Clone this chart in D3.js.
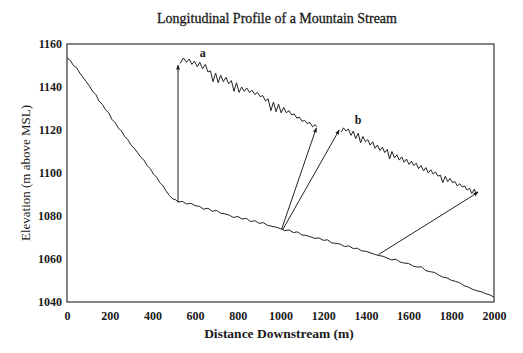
<!doctype html>
<html>
  <head>
    <script src="https://d3js.org/d3.v7.min.js"></script>
    <style>
      body { margin: 0; background: #fff; }
      text { font-family: "Liberation Serif", "Times New Roman", serif; fill: #1a1a1a; }
      path.profile { fill: none; stroke: #222; stroke-width: 1; }
      line.arrow { stroke: #222; stroke-width: 1; }
      rect.frame { fill: none; stroke: #333; stroke-width: 1.2; }
    </style>
  </head>
  <body>
    <svg width="523" height="353"></svg>
    <script>
      // distance downstream (m), elevation (m above MSL)
      var mainProfile = [
        [0, 1153.5], [15, 1152.5], [30, 1150], [45, 1149], [60, 1146.5], [75, 1144.5],
        [90, 1142.5], [105, 1140.5], [120, 1138], [135, 1136.5], [150, 1133.5], [165, 1132],
        [180, 1129.5], [195, 1128], [210, 1125], [225, 1123.5], [240, 1121], [255, 1119.5],
        [270, 1117], [285, 1115.5], [300, 1113], [315, 1111.5], [330, 1109.5], [345, 1107.5],
        [360, 1106], [375, 1103.5], [390, 1102], [405, 1099.5], [420, 1098], [435, 1095.5],
        [450, 1094], [465, 1091.5], [480, 1089.5], [495, 1088], [510, 1087.5], [520, 1086.5],
        [540, 1086.8], [560, 1085.6], [580, 1085.9], [600, 1084.8], [620, 1084.5], [640, 1083.2],
        [660, 1083.6], [680, 1082.2], [700, 1082.6], [720, 1081.3], [740, 1081.0], [760, 1080.4],
        [780, 1079.3], [800, 1079.8], [820, 1078.6], [840, 1078.9], [860, 1077.4], [880, 1077.8],
        [900, 1076.6], [920, 1076.9], [940, 1075.6], [960, 1075.2], [980, 1074.8], [1000, 1074.1],
        [1020, 1073.2], [1040, 1073.5], [1060, 1072.3], [1080, 1072.6], [1100, 1071.2], [1120, 1071.0],
        [1140, 1070.3], [1160, 1069.6], [1180, 1069.8], [1200, 1068.7], [1220, 1068.9], [1240, 1067.5],
        [1260, 1067.3], [1280, 1066.9], [1300, 1065.8], [1320, 1066.1], [1340, 1064.9], [1360, 1065.0],
        [1380, 1063.8], [1400, 1063.6], [1420, 1062.9], [1440, 1062.2], [1460, 1061.6], [1480, 1061.3],
        [1500, 1060.4], [1520, 1059.6], [1540, 1059.9], [1560, 1058.6], [1580, 1058.1], [1600, 1057.9],
        [1620, 1056.8], [1640, 1056.2], [1660, 1056.4], [1680, 1054.6], [1700, 1054.1], [1720, 1053.8],
        [1740, 1052.6], [1760, 1051.6], [1780, 1051.2], [1800, 1050.1], [1820, 1049.6], [1840, 1048.9],
        [1860, 1047.6], [1880, 1046.9], [1900, 1045.9], [1920, 1045.2], [1940, 1044.8], [1960, 1043.9],
        [1980, 1043.3], [2000, 1042.3]
      ];

      var profileA = [
        [530, 1151], [545, 1153.5], [560, 1151.5], [572, 1153], [585, 1150.5], [597, 1152],
        [610, 1149.5], [622, 1151.5], [635, 1148.5], [648, 1150.5], [660, 1147], [672, 1147.5],
        [684, 1142.5], [696, 1146.5], [708, 1142], [720, 1145.5], [732, 1142.5], [745, 1144.5],
        [757, 1141.5], [770, 1143], [782, 1138], [794, 1142], [806, 1137.5], [818, 1140],
        [830, 1138], [842, 1139.5], [855, 1137.5], [867, 1138.5], [880, 1136.5], [892, 1137.5],
        [905, 1135.5], [917, 1136], [930, 1133.5], [942, 1134.5], [955, 1129], [967, 1133],
        [979, 1128.5], [991, 1132], [1003, 1128], [1015, 1130.5], [1027, 1128], [1040, 1129],
        [1052, 1127], [1064, 1127.5], [1077, 1125.5], [1089, 1126], [1101, 1124], [1113, 1124.5],
        [1125, 1123], [1138, 1123.5], [1150, 1121.5], [1162, 1122.5], [1170, 1121.5]
      ];

      var profileB = [
        [1285, 1119], [1295, 1121], [1307, 1119.5], [1318, 1120.5], [1330, 1117.5], [1341, 1119.5],
        [1352, 1116], [1364, 1118.5], [1375, 1114], [1386, 1117], [1398, 1114.5], [1409, 1115.5],
        [1420, 1113], [1432, 1114.5], [1443, 1111.5], [1454, 1113], [1466, 1110.5], [1477, 1112],
        [1488, 1109.5], [1500, 1111], [1511, 1106.5], [1522, 1110], [1534, 1107], [1545, 1108.5],
        [1556, 1106], [1568, 1107.5], [1579, 1105], [1590, 1106.5], [1602, 1104], [1613, 1105.5],
        [1624, 1103.5], [1636, 1104.5], [1647, 1102], [1658, 1103.5], [1670, 1101], [1681, 1102.5],
        [1692, 1100], [1704, 1101.5], [1715, 1099.5], [1726, 1100.5], [1738, 1098.5], [1749, 1099],
        [1760, 1095.5], [1772, 1098.5], [1783, 1096], [1794, 1097.5], [1806, 1095.5], [1817, 1096],
        [1828, 1094], [1840, 1095], [1851, 1093.5], [1862, 1094], [1874, 1092], [1885, 1093],
        [1896, 1090.5], [1908, 1092.5], [1915, 1090.5], [1922, 1091.5]
      ];

      // [fromDist, fromElev, toDist, toElev]
      var arrows = [
        [520, 1086.3, 520, 1150.2],
        [1005, 1073.8, 1168, 1121],
        [1010, 1073.6, 1275, 1120],
        [1458, 1062, 1925, 1091]
      ];

      var profileLabels = [["a", 636, 1154], ["b", 1364, 1122.8]];

      var xTicks = [0, 200, 400, 600, 800, 1000, 1200, 1400, 1600, 1800, 2000];
      var yTicks = [1040, 1060, 1080, 1100, 1120, 1140, 1160];

      var svg = d3.select("svg");
      var serif = "'Liberation Serif', 'Times New Roman', serif";

      var x = d3.scaleLinear().domain([0, 2000]).range([67, 494]);
      var y = d3.scaleLinear().domain([1040, 1160]).range([302, 44]);

      svg.append("rect")
        .attr("class", "frame")
        .attr("x", x(0)).attr("y", y(1160))
        .attr("width", x(2000) - x(0))
        .attr("height", y(1040) - y(1160));

      svg.append("g")
        .attr("transform", "translate(0," + y(1040) + ")")
        .call(d3.axisBottom(x).tickValues(xTicks).tickFormat(d3.format("d")).tickSize(0).tickPadding(9));
      svg.append("g")
        .attr("transform", "translate(" + x(0) + ",0)")
        .call(d3.axisLeft(y).tickValues(yTicks).tickFormat(d3.format("d")).tickSize(0).tickPadding(5));

      svg.selectAll(".domain").remove();
      svg.selectAll("g").attr("font-family", serif).attr("font-size", 12);
      svg.selectAll(".tick text")
        .attr("font-weight", "bold")
        .attr("fill", "#1a1a1a");

      svg.append("defs").append("marker")
        .attr("id", "head")
        .attr("viewBox", "0 0 10 10")
        .attr("refX", 9).attr("refY", 5)
        .attr("markerWidth", 5).attr("markerHeight", 5)
        .attr("orient", "auto")
        .append("path")
          .attr("d", "M0,1 L10,5 L0,9 Z")
          .attr("fill", "#222");

      var line = d3.line().x(d => x(d[0])).y(d => y(d[1]));

      svg.selectAll("path.profile")
        .data([mainProfile, profileA, profileB])
        .enter()
        .append("path")
          .attr("class", "profile")
          .attr("d", line);

      svg.selectAll("line.arrow")
        .data(arrows)
        .enter()
        .append("line")
          .attr("class", "arrow")
          .attr("x1", d => x(d[0])).attr("y1", d => y(d[1]))
          .attr("x2", d => x(d[2])).attr("y2", d => y(d[3]))
          .attr("marker-end", "url(#head)");

      svg.selectAll("text.plabel")
        .data(profileLabels)
        .enter()
        .append("text")
          .attr("class", "plabel")
          .attr("x", d => x(d[1])).attr("y", d => y(d[2]))
          .attr("text-anchor", "middle")
          .style("font-size", "12px")
          .style("font-weight", "bold")
          .text(d => d[0]);

      svg.append("text")
        .attr("x", 277).attr("y", 23)
        .attr("text-anchor", "middle")
        .style("font-size", "14px")
        .style("stroke", "#1a1a1a").style("stroke-width", 0.3)
        .text("Longitudinal Profile of a Mountain Stream");

      svg.append("text")
        .attr("x", 279).attr("y", 338)
        .attr("text-anchor", "middle")
        .style("font-size", "13.5px")
        .style("font-weight", "bold")
        .text("Distance Downstream (m)");

      svg.append("text")
        .attr("transform", "translate(30,173) rotate(-90)")
        .attr("text-anchor", "middle")
        .style("font-size", "13px")
        .text("Elevation (m above MSL)");
    </script>
  </body>
</html>
